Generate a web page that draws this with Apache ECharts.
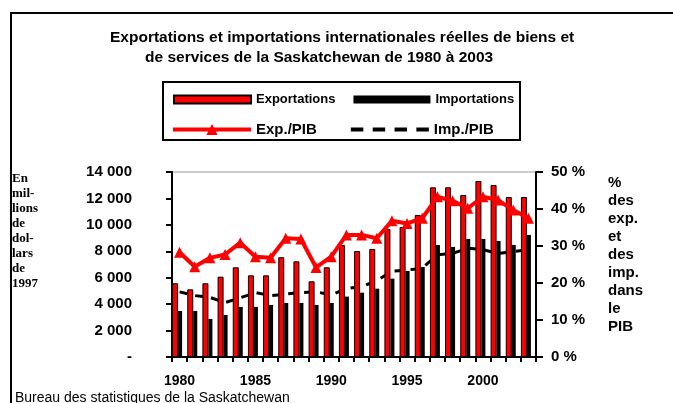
<!DOCTYPE html>
<html>
<head>
<meta charset="utf-8">
<script src="https://cdn.jsdelivr.net/npm/echarts@6/dist/echarts.min.js"></script>
<style>html,body{margin:0;padding:0;background:#fff}#c{width:673px;height:403px}</style>
</head>
<body>
<div id="c"></div>
<script>
const years = ['1980','1981','1982','1983','1984','1985','1986','1987','1988','1989','1990','1991','1992','1993','1994','1995','1996','1997','1998','1999','2000','2001','2002','2003'];
const exportsVals = [5580, 5120, 5580, 6080, 6790, 6180, 6180, 7550, 7240, 5730, 6790, 8480, 8020, 8180, 9690, 9840, 10750, 12840, 12840, 12260, 13320, 13020, 12110, 12110];
const importsVals = [3480, 3480, 2880, 3180, 3790, 3790, 3940, 4090, 4090, 3940, 4090, 4570, 4870, 5170, 5930, 6510, 6810, 8480, 8330, 8930, 8930, 8780, 8480, 9240];
const expPib = [28.3, 24.4, 26.8, 27.7, 30.9, 27.1, 26.8, 32.1, 31.9, 24.2, 27.1, 33.0, 33.0, 32.1, 36.8, 36.1, 37.5, 43.3, 42.2, 40.2, 43.3, 42.4, 39.7, 37.5];
const impPib = [17.6, 16.6, 16.1, 14.7, 16.0, 17.4, 16.6, 17.0, 17.4, 17.6, 16.8, 18.5, 19.0, 20.6, 23.2, 23.5, 24.0, 27.6, 28.0, 29.4, 29.0, 28.0, 28.5, 29.0];
const leftMin = 0, leftMax = 14000, leftStep = 2000;
const rightMin = 0, rightMax = 50, rightStep = 10;

const F = '"Liberation Sans", Arial, sans-serif';
const chart = echarts.init(document.getElementById('c'), null, {renderer: 'canvas'});
function fmtThousands(v) {
  if (v === 0) return '-';
  return String(v).replace(/\B(?=(\d{3})+(?!\d))/g, ' ');
}
const dashIcon = 'path://M0,0h12v4h-12z M21,0h12v4h-12z M42,0h12v4h-12z M63,0h12v4h-12z';
chart.setOption({
  animation: false,
  backgroundColor: '#fff',
  textStyle: {fontFamily: F},
  title: [
    {text: 'Exportations et importations internationales réelles de biens et', left: 110, top: 30, padding: 0,
     textStyle: {fontFamily: F, fontSize: 15.5, fontWeight: 'bold', color: '#000'}},
    {text: 'de services de la Saskatchewan de 1980 à 2003', left: 145, top: 50, padding: 0,
     textStyle: {fontFamily: F, fontSize: 15.5, fontWeight: 'bold', color: '#000'}},
    {text: 'En\nmil-\nlions\nde\ndol-\nlars\nde\n1997', left: 12, top: 171, padding: 0,
     textStyle: {fontFamily: '"Liberation Serif", "Times New Roman", serif', fontSize: 13, fontWeight: 'bold', color: '#000', lineHeight: 15}},
    {text: '%\ndes\nexp.\net\ndes\nimp.\ndans\nle\nPIB', left: 608, top: 174, padding: 0,
     textStyle: {fontFamily: F, fontSize: 15, fontWeight: 'bold', color: '#000', lineHeight: 18}},
    {text: 'Bureau des statistiques de la Saskatchewan', left: 15, top: 391, padding: 0,
     textStyle: {fontFamily: F, fontSize: 14, fontWeight: 'normal', color: '#000'}}
  ],
  graphic: [
    {type: 'rect', shape: {x: 11, y: 13, width: 700, height: 420}, style: {fill: 'none', stroke: '#000', lineWidth: 2}, silent: true},
    {type: 'rect', shape: {x: 163, y: 82, width: 357, height: 58}, style: {fill: 'none', stroke: '#000', lineWidth: 2}, silent: true}
  ],
  legend: [
    {data: [{name: 'Exportations', icon: 'rect'}, {name: 'Importations', icon: 'rect'}], left: 168, top: 88, itemWidth: 77, itemHeight: 8, itemGap: 18,
     selectedMode: false, textStyle: {fontFamily: F, fontSize: 13, fontWeight: 'bold', color: '#000'}},
    {data: ['Exp./PIB', {name: 'Imp./PIB', icon: dashIcon}], left: 166, top: 117, itemWidth: 78, itemHeight: 14, itemGap: 34,
     selectedMode: false, lineStyle: {width: 4},
     textStyle: {fontFamily: F, fontSize: 15, fontWeight: 'bold', color: '#000'}}
  ],
  grid: [
    {left: 172, right: 137, top: 172, bottom: 46, show: true, borderColor: '#999', borderWidth: 1, backgroundColor: 'transparent'},
    {left: 169.5, right: 139.5, top: 172, bottom: 46}
  ],
  xAxis: [
    {type: 'category', gridIndex: 0, data: years, boundaryGap: true,
     axisLine: {lineStyle: {color: '#000', width: 2}},
     axisTick: {show: true, interval: 0, length: 5, lineStyle: {color: '#000', width: 2}},
     axisLabel: {interval: 4, margin: 17, fontFamily: F, fontSize: 14, fontWeight: 'bold', color: '#000'},
     splitLine: {show: false}},
    {type: 'category', gridIndex: 1, data: years, show: false}
  ],
  yAxis: [
    {type: 'value', gridIndex: 0, position: 'left', min: leftMin, max: leftMax, interval: leftStep,
     axisLine: {show: true, lineStyle: {color: '#000', width: 2}},
     axisTick: {show: true, length: 6, lineStyle: {color: '#000', width: 2}},
     splitLine: {show: false},
     axisLabel: {margin: 40, formatter: fmtThousands, fontFamily: F, fontSize: 15, fontWeight: 'bold', color: '#000'}},
    {type: 'value', gridIndex: 0, position: 'right', min: rightMin, max: rightMax, interval: rightStep,
     axisLine: {show: true, lineStyle: {color: '#000', width: 2}},
     axisTick: {show: true, length: 7, lineStyle: {color: '#000', width: 2}},
     splitLine: {show: false},
     axisLabel: {margin: 15, formatter: '{value} %', fontFamily: F, fontSize: 15, fontWeight: 'bold', color: '#000'}},
    {type: 'value', gridIndex: 1, min: leftMin, max: leftMax, show: false, splitLine: {show: false}}
  ],
  series: [
    {name: 'Exportations', type: 'bar', xAxisIndex: 1, yAxisIndex: 2, data: exportsVals, barWidth: 6, barGap: 0,
     itemStyle: {color: '#ff0000', borderColor: '#000', borderWidth: 1}, z: 2},
    {name: 'Importations', type: 'bar', xAxisIndex: 1, yAxisIndex: 2, data: importsVals, barWidth: 4, barGap: 0,
     itemStyle: {color: '#000'}, z: 2},
    {name: 'Imp./PIB', type: 'line', xAxisIndex: 0, yAxisIndex: 1, data: impPib, symbol: 'none',
     lineStyle: {color: '#000', width: 3, type: [8, 8]}, itemStyle: {color: '#000'}, z: 1},
    {name: 'Exp./PIB', type: 'line', xAxisIndex: 0, yAxisIndex: 1, data: expPib, symbol: 'triangle', symbolSize: 11,
     showAllSymbol: true,
     lineStyle: {color: '#ff0000', width: 4}, itemStyle: {color: '#ff0000'}, z: 3}
  ]
});
</script>
</body>
</html>
